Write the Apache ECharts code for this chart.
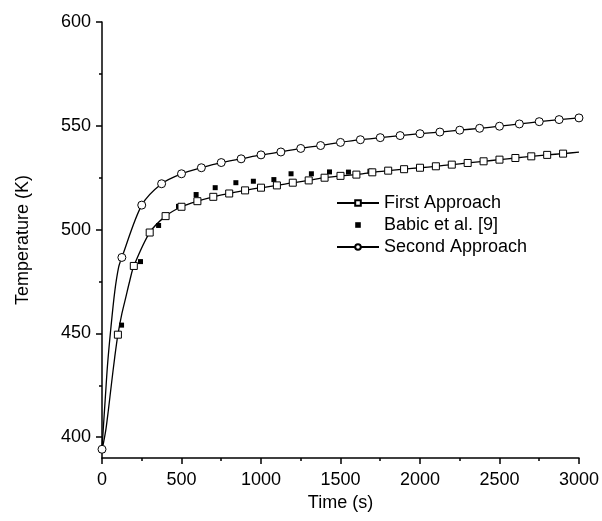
<!DOCTYPE html>
<html><head><meta charset="utf-8">
<script src="https://cdn.jsdelivr.net/npm/echarts@6/dist/echarts.min.js"></script>
<style>html,body{margin:0;padding:0;background:#fff}#c{width:602px;height:521px}</style>
</head><body><div id="c"></div>
<script>
// ---- data ----
const yTicks = [400, 450, 500, 550, 600];
const yMinorTicks = [425, 475, 525, 575];

// First Approach: marker points (open squares)
const firstApproachTime = [100,200,300,400,500,600,700,800,900,1000,1100,1200,1300,1400,1500,1600,1700,1800,1900,2000,2100,2200,2300,2400,2500,2600,2700,2800,2900];
const firstApproachTemp = [449.4,482.5,498.6,506.5,511.0,513.7,515.8,517.4,518.9,520.2,521.3,522.6,523.7,525.0,525.9,526.5,527.6,528.4,529.1,529.8,530.5,531.3,532.1,532.9,533.7,534.5,535.3,536.0,536.6];
// First Approach: curve points read between markers (no marker drawn)
const firstCurveTime = [0, 10, 25, 40, 60, 80, 125, 150, 175, 3000];
const firstCurveTemp = [394, 397.5, 404, 413, 426, 438.5, 459.5, 467.5, 475.5, 537.3];

// Babic et al. [9] (filled squares)
const babicTime = [123,242,356,481,592,712,842,952,1081,1189,1317,1431,1550,1685,1800,1908];
const babicTemp = [454.0,484.6,502.0,511.2,516.9,520.2,522.6,523.3,524.1,526.9,526.9,527.8,527.7,528.1,528.6,529.3];

// Second Approach: marker points (open circles)
const secondApproachTime = [0,125,250,375,500,625,750,875,1000,1125,1250,1375,1500,1625,1750,1875,2000,2125,2250,2375,2500,2625,2750,2875,3000];
const secondApproachTemp = [394.2,486.6,511.8,522.1,526.9,529.8,532.3,534.1,536.0,537.4,539.1,540.5,542.0,543.3,544.3,545.3,546.2,547.0,547.9,548.8,549.8,550.9,552.0,553.0,553.8];
// Second Approach: curve points read between markers (no marker drawn)
const secondCurveTime = [8, 20, 35, 55, 80, 105];
const secondCurveTemp = [404, 418, 435, 452, 470, 482];

// ---- build series data ----
function build(markT, markV, curveT, curveV) {
  const pts = [];
  markT.forEach((t, i) => pts.push({ value: [t, markV[i]] }));
  curveT.forEach((t, i) => pts.push({ value: [t, curveV[i]], symbol: 'none' }));
  pts.sort((a, b) => a.value[0] - b.value[0]);
  return pts;
}
const FONT = "'Liberation Sans', Arial, Helvetica, sans-serif";
const chart = echarts.init(document.getElementById('c'), null, { renderer: 'canvas' });
const axisLineStyle = { color: '#000', width: 1.5 };
chart.setOption({
  animation: false,
  backgroundColor: '#fff',
  textStyle: { fontFamily: FONT },
  grid: { left: 102, right: 20, top: 22, bottom: 63, containLabel: false },
  legend: {
    orient: 'vertical', left: 336, top: 194, padding: 0,
    itemWidth: 42, itemHeight: 7, itemGap: 4,
    data: ['First Approach', 'Babic et al. [9]', 'Second Approach'],
    textStyle: { fontSize: 18, color: '#000', fontFamily: FONT, lineHeight: 18 }
  },
  xAxis: {
    type: 'value', min: 0, max: 3000, interval: 500,
    name: 'Time (s)', nameLocation: 'middle', nameGap: 26,
    nameTextStyle: { fontSize: 18, color: '#000', fontFamily: FONT },
    axisLine: { show: true, lineStyle: axisLineStyle },
    axisTick: { show: true, inside: false, length: 6, lineStyle: axisLineStyle },
    minorTick: { show: true, splitNumber: 2, length: 3, lineStyle: axisLineStyle },
    splitLine: { show: false }, minorSplitLine: { show: false },
    axisLabel: { fontSize: 18, color: '#000', margin: 13, fontFamily: FONT, formatter: v => String(v) }
  },
  yAxis: [{
    type: 'value', min: 390, max: 600,
    name: 'Temperature (K)', nameLocation: 'middle', nameGap: 70, nameRotate: 90,
    nameTextStyle: { fontSize: 18, color: '#000', fontFamily: FONT },
    axisLine: { show: true, lineStyle: axisLineStyle },
    axisTick: { show: true, inside: false, length: 6, lineStyle: axisLineStyle, customValues: yTicks },
    splitLine: { show: false },
    axisLabel: { fontSize: 18, color: '#000', margin: 11, fontFamily: FONT, customValues: yTicks, formatter: v => String(v) }
  }, {
    type: 'value', min: 390, max: 600, position: 'left',
    axisLine: { show: false },
    axisTick: { show: true, inside: false, length: 3, lineStyle: axisLineStyle, customValues: yMinorTicks },
    axisLabel: { show: false },
    splitLine: { show: false }
  }],
  series: [{
    name: 'Babic et al. [9]', type: 'line', z: 2,
    data: babicTime.map((t, i) => [t, babicTemp[i]]),
    symbol: 'rect', symbolSize: 5, showAllSymbol: true, clip: false,
    lineStyle: { width: 0, opacity: 0 },
    itemStyle: { color: '#000', borderWidth: 0 }
  }, {
    name: 'First Approach', type: 'line', z: 3,
    data: build(firstApproachTime, firstApproachTemp, firstCurveTime, firstCurveTemp),
    smooth: 0.3,
    symbol: 'rect', symbolSize: 7, showAllSymbol: true, clip: false,
    lineStyle: { color: '#000', width: 1.3 },
    itemStyle: { color: '#fff', borderColor: '#000', borderWidth: 1 }
  }, {
    name: 'Second Approach', type: 'line', z: 4,
    data: build(secondApproachTime, secondApproachTemp, secondCurveTime, secondCurveTemp),
    smooth: 0.3,
    symbol: 'circle', symbolSize: 8, showAllSymbol: true, clip: false,
    lineStyle: { color: '#000', width: 1.3 },
    itemStyle: { color: '#fff', borderColor: '#000', borderWidth: 1 }
  }]
});
</script></body></html>
